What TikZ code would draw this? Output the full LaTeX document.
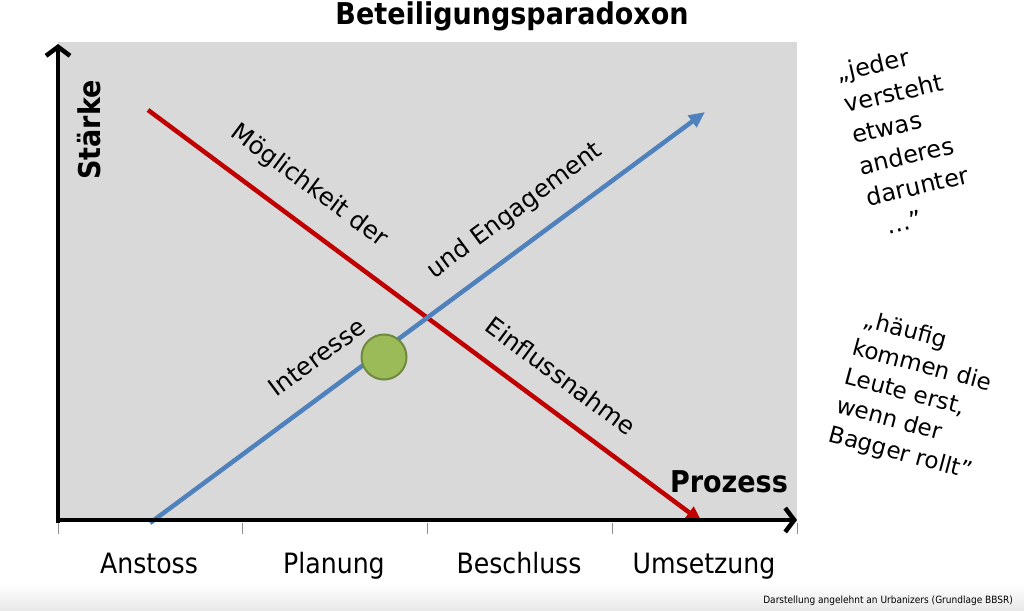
\documentclass[tikz,border=0pt]{standalone}
\usepackage{fontspec}
\setmainfont{DejaVu Sans}
\newfontfamily\cond{DejaVu Sans Condensed}
\usetikzlibrary{arrows.meta}
\definecolor{plotbg}{HTML}{D9D9D9}
\definecolor{redl}{HTML}{C00000}
\definecolor{bluel}{HTML}{4F81BD}
\definecolor{greenf}{HTML}{9BBB59}
\definecolor{greend}{HTML}{71893F}
\begin{document}
\begin{tikzpicture}[x=1pt,y=-1pt,
  axis/.style={line width=4.5pt,-{Straight Barb[length=9pt,width=24pt]}},
  redline/.style={draw=redl,line width=4.5pt,-{Triangle[length=16pt,width=14pt]}},
  blueline/.style={draw=bluel,line width=4.5pt,-{Triangle[length=16pt,width=14pt]}},
  ticks/.style={draw=black!45,line width=0.8pt},
  phase/.style={font=\cond\fontsize{28}{32}\selectfont,inner sep=0pt,anchor=base},
  along/.style={font=\fontsize{24.5}{28}\selectfont,inner sep=0pt},
  quote/.style={align=left,inner sep=0pt},
  heading/.style={font=\cond\bfseries\fontsize{30}{32}\selectfont,inner sep=0pt}]
\useasboundingbox (0,0) rectangle (1024,610);
\shade[top color=white,bottom color=black!9] (0,584) rectangle (1024,610);
\fill[plotbg] (58,42) rectangle (797,522);
\coordinate (o) at (58,520);
\coordinate (ytop) at (58,44);
\coordinate (xend) at (797,520);
\coordinate (rs) at (148,110);
\coordinate (re) at (702,522);
\coordinate (bs) at (150,523);
\coordinate (be) at (705,112);
\draw[redline] (rs) -- (re);
\draw[blueline] (bs) -- (be);
\draw[axis] (58,522.5) -- (ytop);
\draw[axis] (55.8,520) -- (xend);
\foreach \x in {58,242,427,612,797} \draw[ticks] (\x,523) -- (\x,534);
\node[circle,fill=greenf,draw=greend,line width=2pt,minimum size=45pt,inner sep=0pt] (dot) at (384,357) {};
\node[heading] (title) at (512,16) {Beteiligungsparadoxon};
\node[heading,rotate=90] (y) at (89,130) {Stärke};
\node[heading] (x) at (729,482) {Prozess};
\node[phase] (p1) at (149,573) {Anstoss};
\node[phase] (p2) at (334,573) {Planung};
\node[phase] (p3) at (519,573) {Beschluss};
\node[phase] (p4) at (704,573) {Umsetzung};
\node[along,rotate=-36.6] (l1) at (309,186) {Möglichkeit der};
\node[along,rotate=-36.6] (l2) at (561,376) {Einflussnahme};
\node[along,rotate=36.5] (l3) at (317,357) {Interesse};
\node[along,rotate=36.5] (l4) at (515,211) {und Engagement};
\node[quote,font=\fontsize{24}{32}\selectfont,rotate=13] (q1) at (906,139) {„jeder\\\hspace{1pt}versteht\\\hspace{1pt}etwas\\\hspace{1pt}anderes\\\hspace{1pt}darunter\\\hspace{14pt}…"};
\node[quote,font=\fontsize{23}{30}\selectfont,rotate=-15] (q2) at (916,396) {\hspace{4pt}„häufig\\kommen die\\Leute erst,\\wenn der\\Bagger rollt"};
\node[font=\cond\fontsize{10}{12}\selectfont,anchor=east,inner sep=0pt] (src) at (1013,601) {Darstellung angelehnt an Urbanizers (Grundlage BBSR)};
\end{tikzpicture}
\end{document}
